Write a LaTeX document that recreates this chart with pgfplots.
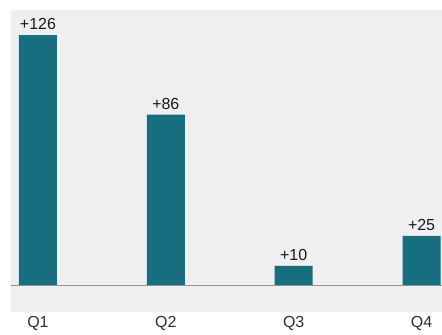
\documentclass[border=0pt]{standalone}
\usepackage{pgfplots}
\pgfplotsset{compat=1.18}
\usepackage{fontspec}
\setmainfont{Liberation Sans}
\definecolor{barteal}{RGB}{22,110,126}
\definecolor{bgg}{RGB}{239,239,241}
\definecolor{txt}{RGB}{25,25,25}
\begin{document}
\begin{tikzpicture}
\begin{axis}[
  scale only axis,
  width=431pt, height=302pt,
  xmin=-0.211, xmax=3.156,
  ymin=-13.07, ymax=138.7,
  axis background/.style={fill=bgg},
  axis line style={draw=none},
  xtick=data,
  xticklabels={Q1,Q2,Q3,Q4},
  ytick=\empty,
  major tick length=0pt,
  xticklabel style={font=\fontsize{16}{18}\selectfont, text=txt!80!gray, yshift=-1.5pt},
  ybar, bar width=38pt,
  /pgf/number format/assume math mode=true,
  nodes near coords={+\pgfmathprintnumber[assume math mode=true]{\pgfplotspointmeta}},
  every node near coord/.append style={font=\fontsize{16}{18}\selectfont, text=txt, anchor=south, yshift=2pt},
  clip=false,
]
\addplot[fill=barteal, draw=none] coordinates {(0,126) (1,86) (2,10) (3,25)};
\draw[color=gray!85, line width=1pt] (axis cs:-0.211,0) -- (axis cs:3.156,0);
\end{axis}
\useasboundingbox ([shift={(-11pt,-19pt)}]current axis.south west) rectangle ([shift={(0pt,10pt)}]current axis.north east);
\end{tikzpicture}
\end{document}
